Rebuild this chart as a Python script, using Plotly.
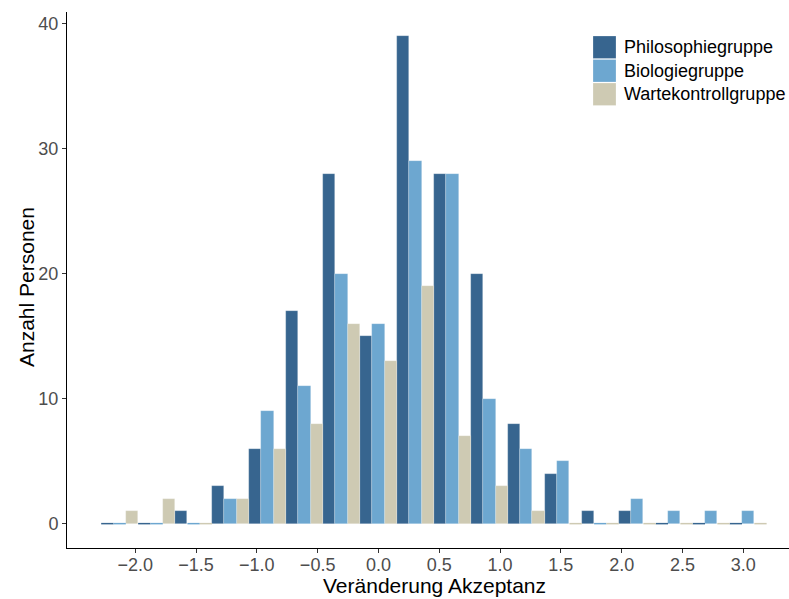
import plotly.graph_objects as go

# ---- data ----
bin_width = 0.304
bin_index = list(range(-7, 11))          # bin centres = index * bin_width
philosophie = [0, 0, 1, 3, 6, 17, 28, 15, 39, 28, 20, 8, 4, 1, 1, 0, 0, 0]
biologie    = [0, 0, 0, 2, 9, 11, 20, 16, 29, 28, 10, 6, 5, 0, 2, 1, 1, 1]
warte       = [1, 2, 0, 2, 6, 8, 16, 13, 19, 7, 3, 1, 0, 0, 0, 0, 0, 0]
series_names = ["Philosophiegruppe", "Biologiegruppe", "Wartekontrollgruppe"]
x_ticks = [-2.0, -1.5, -1.0, -0.5, 0.0, 0.5, 1.0, 1.5, 2.0, 2.5, 3.0]
y_ticks = [0, 10, 20, 30, 40]
x_title = "Veränderung Akzeptanz"
y_title = "Anzahl Personen"

colors = ["#37658F", "#6DA7D0", "#CECAB3"]
centers = [i * bin_width for i in bin_index]
all_series = [philosophie, biologie, warte]

# body margin is removed in the page, so the figure fills the window exactly
W, H = 789, 599
ML, MT, MB = 67, 12, 51
PW, PH = W - ML, H - MT - MB


def px_x(sx):   # screen x -> paper fraction
    return (sx - ML) / PW


def px_y(sy):   # screen y -> paper fraction
    return 1 - (sy - MT) / PH


fig = go.Figure()

# zero-count bins are drawn by ggplot as thin lines; build them from the data
for g, (vals, col) in enumerate(zip(all_series, colors)):
    sub = bin_width / 3
    xs, ys = [], []
    for c, v in zip(centers, vals):
        if v == 0:
            mid = c + (g - 1) * sub
            xs += [mid - sub / 2, mid + sub / 2, None]
            ys += [0, 0, None]
    fig.add_trace(go.Scatter(x=xs, y=ys, mode="lines", line=dict(color=col, width=1.5),
                             showlegend=False, hoverinfo="skip"))

for name, vals, col in zip(series_names, all_series, colors):
    fig.add_trace(go.Bar(x=centers, y=vals, name=name, marker=dict(color=col,
                         line=dict(color="rgba(255,255,255,0.35)", width=0.6)),
                         showlegend=False))

# legend drawn as keys + labels (ggplot-sized keys)
shapes, annotations = [], []
key_top, key_step, key_h = 36, 23.5, 22.5
for i, (name, col) in enumerate(zip(series_names, colors)):
    top = key_top + i * key_step
    shapes.append(dict(type="rect", xref="paper", yref="paper",
                       x0=px_x(593), x1=px_x(616), y0=px_y(top + key_h), y1=px_y(top),
                       fillcolor=col, line=dict(color="rgba(255,255,255,0.4)", width=0.6)))
    annotations.append(dict(text=name, xref="paper", yref="paper", x=px_x(622),
                            y=px_y(top + key_h / 2), xanchor="left", yanchor="middle",
                            showarrow=False, font=dict(size=18, color="black")))

annotations += [
    dict(text=x_title, xref="paper", yref="paper", x=px_x(434), y=px_y(585),
         xanchor="center", yanchor="middle", showarrow=False,
         font=dict(size=21, color="black")),
    dict(text=y_title, xref="paper", yref="paper", x=px_x(26), y=px_y(287),
         xanchor="center", yanchor="middle", showarrow=False, textangle=-90,
         font=dict(size=21, color="black")),
]

axis_common = dict(showgrid=False, zeroline=False, showline=True, linecolor="black",
                   linewidth=1, ticks="outside", ticklen=4, tickcolor="#333333",
                   tickfont=dict(size=18, color="#4D4D4D"), automargin=False)

fig.update_layout(
    width=W, height=H,
    margin=dict(l=ML, r=0, t=MT, b=MB),
    paper_bgcolor="white", plot_bgcolor="white",
    barmode="group", bargap=0, bargroupgap=0, showlegend=False,
    font=dict(family="Arial, Liberation Sans, sans-serif", color="black"),
    xaxis=dict(range=[-2.561, 3.376], tickvals=x_ticks, tickformat=".1f",
               ticklabelstandoff=-4, **axis_common),
    yaxis=dict(range=[-1.95, 40.95], tickvals=y_ticks, **axis_common),
    shapes=shapes, annotations=annotations,
)

fig.write_html("out.html", config={"displayModeBar": False},
               post_script="document.body.style.margin='0px';document.body.style.overflow='hidden';")
